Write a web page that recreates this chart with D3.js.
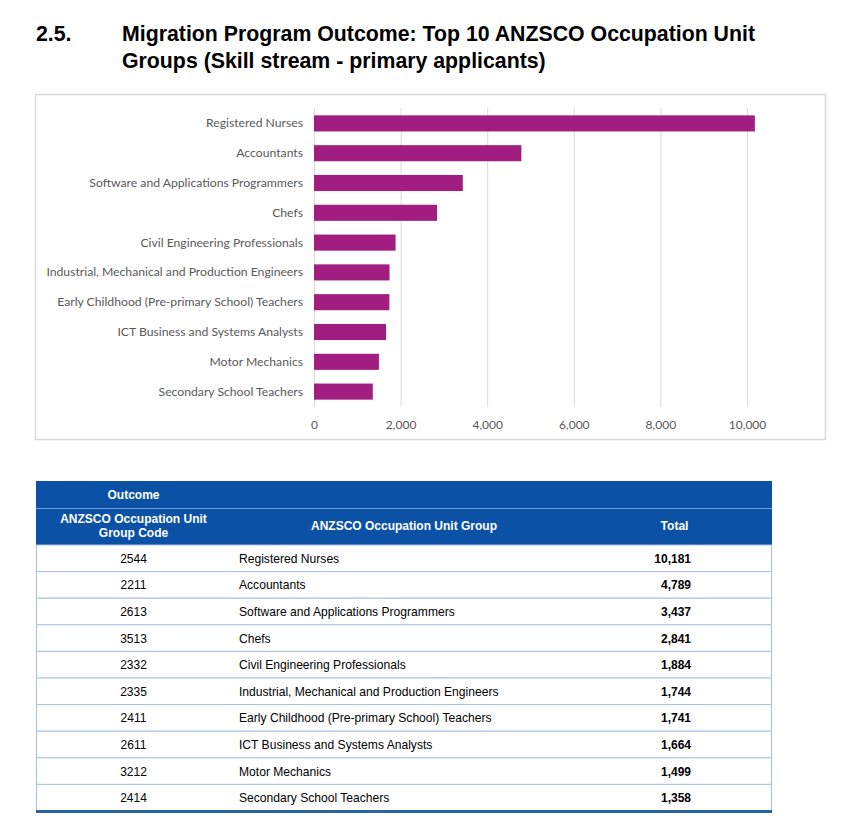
<!DOCTYPE html>
<html><head><meta charset="utf-8">
<script src="https://cdn.jsdelivr.net/npm/d3@7"></script>
<style>
body{margin:0;background:#fff;}
svg{display:block;}
</style></head>
<body>
<script>
const categories = ["Registered Nurses","Accountants","Software and Applications Programmers","Chefs","Civil Engineering Professionals","Industrial, Mechanical and Production Engineers","Early Childhood (Pre-primary School) Teachers","ICT Business and Systems Analysts","Motor Mechanics","Secondary School Teachers"];
const codes = ["2544","2211","2613","3513","2332","2335","2411","2611","3212","2414"];
const totals = [10181,4789,3437,2841,1884,1744,1741,1664,1499,1358];
const xTicks = [0,2000,4000,6000,8000,10000];

const W = 844, H = 823;
const svg = d3.select("body").append("svg").attr("width", W).attr("height", H);

// Title
const title = svg.append("g").attr("font-family","Liberation Sans, Arial, sans-serif").attr("font-weight","bold").attr("font-size",21.3).attr("fill","#000");
title.append("text").attr("x",36).attr("y",41).text("2.5.");
title.append("text").attr("x",122).attr("y",41).text("Migration Program Outcome: Top 10 ANZSCO Occupation Unit");
title.append("text").attr("x",122).attr("y",68).text("Groups (Skill stream - primary applicants)");

// Chart box
svg.append("rect").attr("x",35.5).attr("y",94.5).attr("width",790).attr("height",345)
  .attr("fill","none").attr("stroke","#d9d9d9").attr("stroke-width",1.5);

const x = d3.scaleLinear().domain([0,10000]).range([314,747]);
const y = d3.scaleBand().domain(categories).range([108.5,406.5]).paddingInner(0.46).paddingOuter(0.23);

// gridlines
svg.append("g").selectAll("line").data(xTicks).join("line")
  .attr("x1",d=>x(d)+0.5).attr("x2",d=>x(d)+0.5).attr("y1",108).attr("y2",407)
  .attr("stroke","#d9d9d9").attr("stroke-width",1);

// bars
svg.append("g").selectAll("rect").data(totals).join("rect")
  .attr("x",x(0)).attr("y",(d,i)=>y(categories[i]))
  .attr("width",d=>x(d)-x(0)).attr("height",y.bandwidth())
  .attr("fill","#a11d80");

// category axis
const yAxis = d3.axisLeft(y).tickSize(0).tickPadding(11);
const ya = svg.append("g").attr("transform",`translate(${x(0)},0)`).call(yAxis);
ya.select(".domain").remove();
ya.selectAll("text").attr("font-family","Lato, 'Open Sans', sans-serif").attr("font-size",12.2).attr("fill","#595959");

// value axis
const xAxis = d3.axisBottom(x).tickValues(xTicks).tickSize(0).tickPadding(13).tickFormat(d3.format(","));
const xa = svg.append("g").attr("transform","translate(0,407)").call(xAxis);
xa.select(".domain").remove();
xa.selectAll("text").attr("font-family","Lato, 'Open Sans', sans-serif").attr("font-size",12).attr("fill","#595959");

// Table
const tX0 = 36, tX1 = 772;
const blue = "#0b52a6";
svg.append("rect").attr("x",tX0).attr("y",481).attr("width",tX1-tX0).attr("height",64).attr("fill",blue);
svg.append("line").attr("x1",tX0).attr("x2",tX1).attr("y1",508.5).attr("y2",508.5).attr("stroke","#6f9fd6").attr("stroke-width",1);

const hdr = svg.append("g").attr("font-family","Liberation Sans, Arial, sans-serif").attr("font-weight","bold").attr("font-size",12).attr("fill","#fff").attr("text-anchor","middle");
hdr.append("text").attr("x",133.5).attr("y",499).text("Outcome");
hdr.append("text").attr("x",133.5).attr("y",523).text("ANZSCO Occupation Unit");
hdr.append("text").attr("x",133.5).attr("y",537).text("Group Code");
hdr.append("text").attr("x",404).attr("y",530).text("ANZSCO Occupation Unit Group");
hdr.append("text").attr("x",674.5).attr("y",530).text("Total");

const rowY = d3.scaleBand().domain(d3.range(codes.length)).range([545,811]);
const rows = svg.append("g").selectAll("g").data(codes).join("g")
  .attr("transform",(d,i)=>`translate(0,${rowY(i)})`);
rows.append("rect").attr("x",tX0+0.5).attr("y",0).attr("width",tX1-tX0-1).attr("height",rowY.bandwidth())
  .attr("fill","#fff").attr("stroke","#a9c1de").attr("stroke-width",1);
rows.append("text").attr("x",133.5).attr("y",rowY.bandwidth()/2+4.5).attr("text-anchor","middle")
  .attr("font-family","Liberation Sans, Arial, sans-serif").attr("font-size",12).attr("fill","#000").text(d=>d);
rows.append("text").attr("x",239).attr("y",rowY.bandwidth()/2+4.5)
  .attr("font-family","Liberation Sans, Arial, sans-serif").attr("font-size",12.1).attr("fill","#000").text((d,i)=>categories[i]);
rows.append("text").attr("x",691).attr("y",rowY.bandwidth()/2+4.5).attr("text-anchor","end")
  .attr("font-family","Liberation Sans, Arial, sans-serif").attr("font-weight","bold").attr("font-size",12).attr("fill","#000").text((d,i)=>d3.format(",")(totals[i]));

svg.append("line").attr("x1",tX0).attr("x2",tX1).attr("y1",811.5).attr("y2",811.5).attr("stroke","#2a64a8").attr("stroke-width",3);
</script>
</body></html>
